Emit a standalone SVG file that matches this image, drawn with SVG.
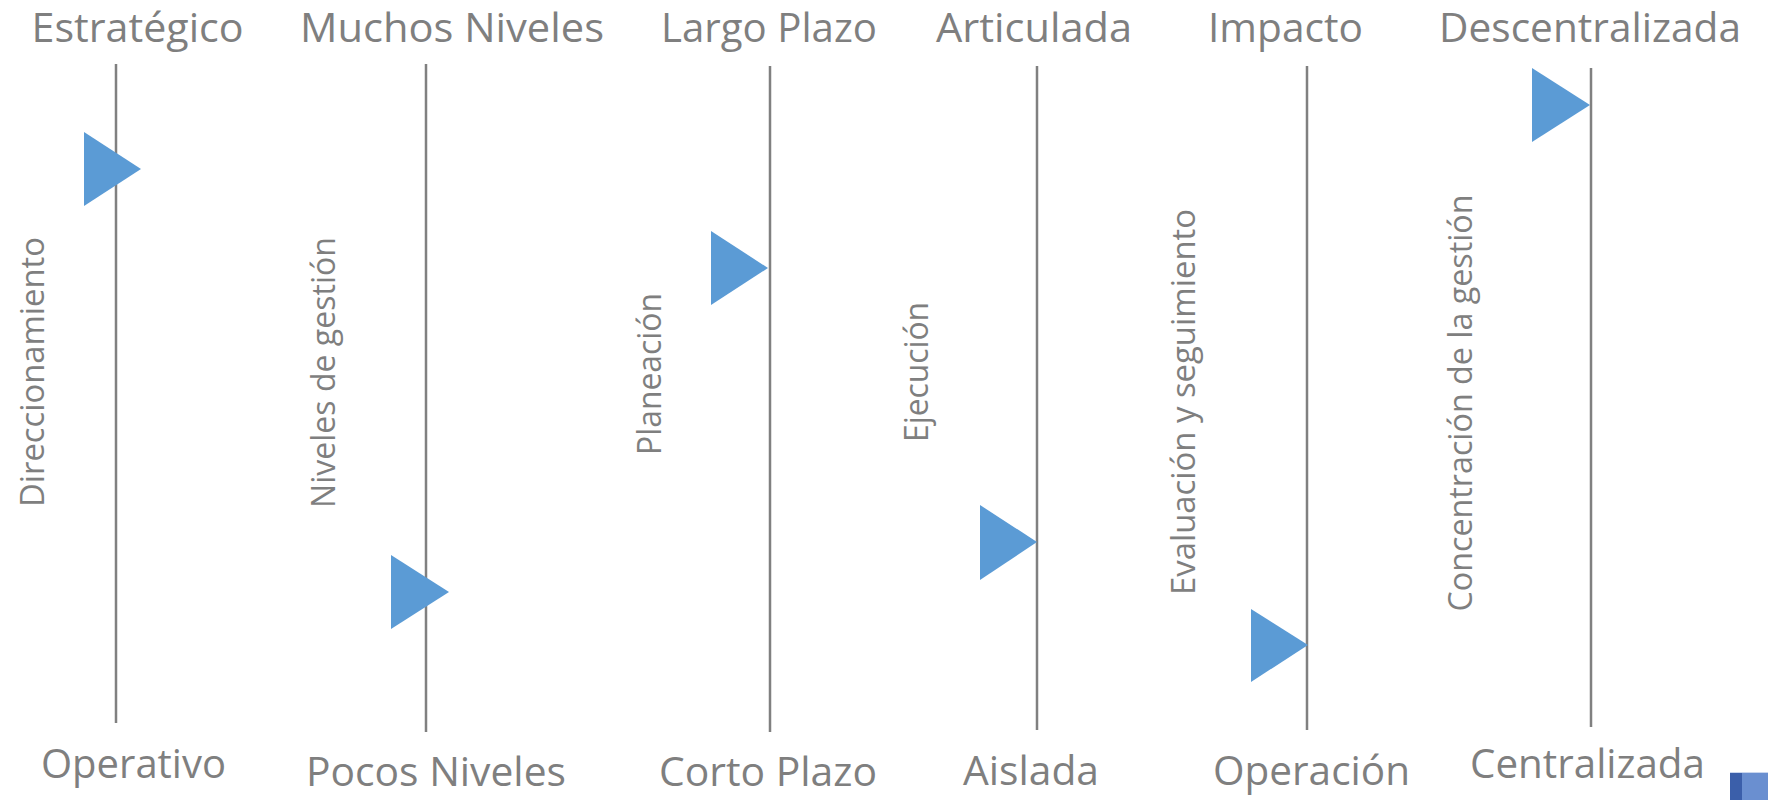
<svg xmlns="http://www.w3.org/2000/svg" width="1768" height="800" viewBox="0 0 1768 800">
<style>
.bg{fill:#ffffff}
.axis{stroke:#808080;stroke-width:2.5;fill:none}
.mark{fill:#5B9BD5}
.lbl{font-family:"Open Sans","Liberation Sans",sans-serif;font-size:41px;fill:#7F7F7F;text-anchor:middle}
.vl{font-family:"Open Sans","Liberation Sans",sans-serif;font-size:33.5px;fill:#7F7F7F;text-anchor:middle}
</style>
<rect class="bg" x="0" y="0" width="1768" height="800"/>
<g id="connectors">
<line class="axis" x1="116" y1="64" x2="116" y2="723"/>
<line class="axis" x1="426" y1="64" x2="426" y2="732"/>
<line class="axis" x1="770" y1="66" x2="770" y2="732"/>
<line class="axis" x1="1037" y1="66" x2="1037" y2="730"/>
<line class="axis" x1="1307" y1="66" x2="1307" y2="730"/>
<line class="axis" x1="1591" y1="68" x2="1591" y2="727"/>
</g>
<g id="axis-direccionamiento">
<text class="lbl" x="137.6" y="41.5" textLength="212" lengthAdjust="spacingAndGlyphs">Estratégico</text>
<text class="lbl" x="133.5" y="778" textLength="185" lengthAdjust="spacingAndGlyphs">Operativo</text>
<text class="vl" x="44" y="372" transform="rotate(-90 44 372)" textLength="270" lengthAdjust="spacingAndGlyphs">Direccionamiento</text>
<polygon class="mark" points="84,132 84,206 141,169"/>
</g>
<g id="axis-niveles">
<text class="lbl" x="452" y="41.5" textLength="304" lengthAdjust="spacingAndGlyphs">Muchos Niveles</text>
<text class="lbl" x="436" y="786" textLength="260" lengthAdjust="spacingAndGlyphs">Pocos Niveles</text>
<text class="vl" x="335" y="372.5" transform="rotate(-90 335 372.5)" textLength="271" lengthAdjust="spacingAndGlyphs">Niveles de gestión</text>
<polygon class="mark" points="391,555 391,629 449,592"/>
</g>
<g id="axis-planeacion">
<text class="lbl" x="769" y="41.5" textLength="216" lengthAdjust="spacingAndGlyphs">Largo Plazo</text>
<text class="lbl" x="768" y="786" textLength="218" lengthAdjust="spacingAndGlyphs">Corto Plazo</text>
<text class="vl" x="661" y="374" transform="rotate(-90 661 374)" textLength="162" lengthAdjust="spacingAndGlyphs">Planeación</text>
<polygon class="mark" points="711,231 711,305 768,268"/>
</g>
<g id="axis-ejecucion">
<text class="lbl" x="1034" y="41.5" textLength="196" lengthAdjust="spacingAndGlyphs">Articulada</text>
<text class="lbl" x="1031" y="785" textLength="136" lengthAdjust="spacingAndGlyphs">Aislada</text>
<text class="vl" x="928" y="372" transform="rotate(-90 928 372)" textLength="140" lengthAdjust="spacingAndGlyphs">Ejecución</text>
<polygon class="mark" points="980,505 980,580 1037,542"/>
</g>
<g id="axis-evaluacion">
<text class="lbl" x="1285.5" y="41.5" textLength="155" lengthAdjust="spacingAndGlyphs">Impacto</text>
<text class="lbl" x="1311.5" y="785" textLength="197" lengthAdjust="spacingAndGlyphs">Operación</text>
<text class="vl" x="1195" y="402" transform="rotate(-90 1195 402)" textLength="386" lengthAdjust="spacingAndGlyphs">Evaluación y seguimiento</text>
<polygon class="mark" points="1251,609 1251,682 1308,645"/>
</g>
<g id="axis-concentracion">
<text class="lbl" x="1590" y="41.5" textLength="302" lengthAdjust="spacingAndGlyphs">Descentralizada</text>
<text class="lbl" x="1587.5" y="778" textLength="235" lengthAdjust="spacingAndGlyphs">Centralizada</text>
<text class="vl" x="1472" y="403" transform="rotate(-90 1472 403)" textLength="417" lengthAdjust="spacingAndGlyphs">Concentración de la gestión</text>
<polygon class="mark" points="1532,68 1532,142 1590,105"/>
</g>
<g id="corner-tab">
<rect x="1730" y="772" width="38" height="28" fill="#6A8FD0"/>
<rect x="1730" y="772" width="12" height="28" fill="#3B5FAA"/>
<rect x="1730" y="772" width="38" height="1" fill="#C9D6EE"/>
</g>
</svg>
